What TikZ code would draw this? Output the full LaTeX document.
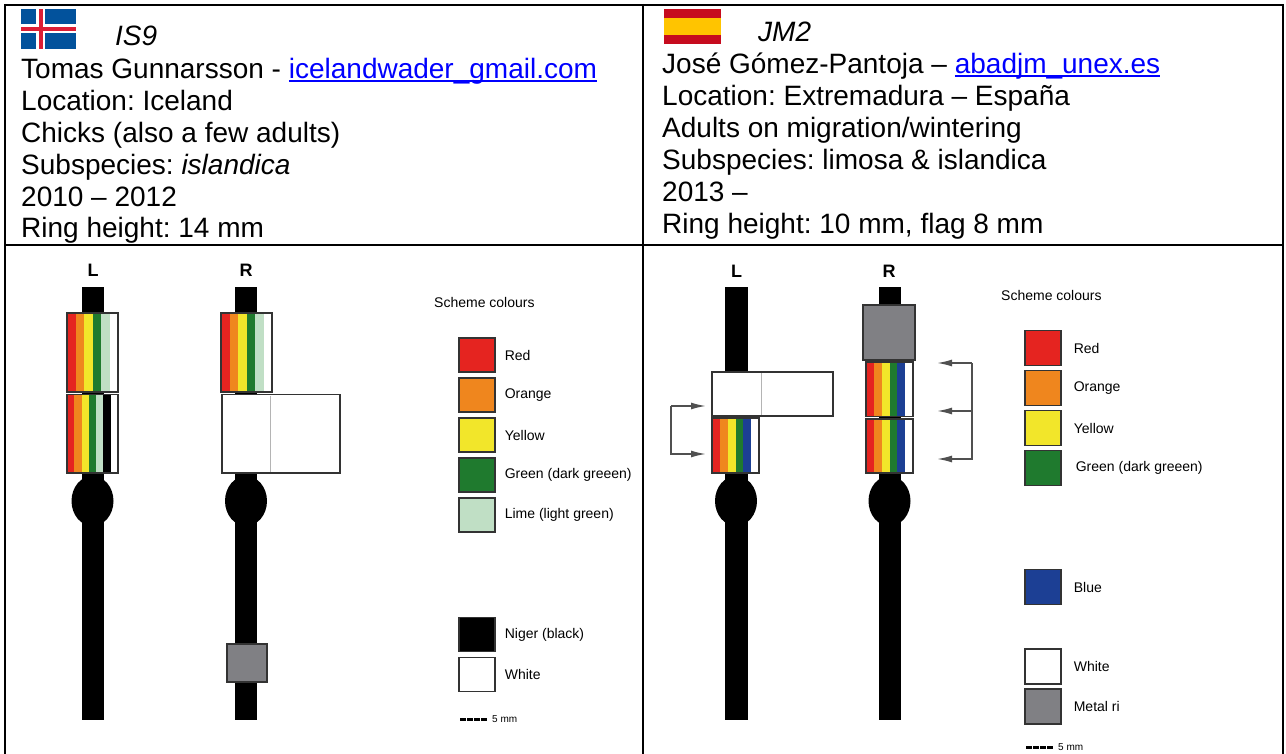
\documentclass[tikz,border=0pt]{standalone}
\usepackage{fontspec}
\setmainfont{Liberation Sans}
\usetikzlibrary{arrows.meta}
\frenchspacing

\definecolor{ringred}{HTML}{E52420}
\definecolor{ringorange}{HTML}{EF861E}
\definecolor{ringyellow}{HTML}{F2E62A}
\definecolor{ringgreen}{HTML}{1F7A2E}
\definecolor{ringlime}{HTML}{C0DFC5}
\definecolor{ringblue}{HTML}{1C3F94}
\definecolor{metal}{HTML}{808084}
\definecolor{ringline}{HTML}{333333}
\definecolor{flagseam}{HTML}{B4B4B4}
\definecolor{arrowgrey}{HTML}{505050}
\definecolor{isblue}{HTML}{02529C}
\definecolor{isred}{HTML}{DC1E35}
\definecolor{esred}{HTML}{C60B1E}
\definecolor{esyellow}{HTML}{FFC400}
\definecolor{linkblue}{HTML}{0000FF}

% underlined blue e-mail address
\newcommand{\weblink}[1]{\begingroup\color{linkblue}\setbox0=\hbox{#1}\rlap{\rule[-3pt]{\wd0}{2pt}}\box0\endgroup}

% striped colour ring: left, top, right, bottom, number of bands, colours
\newcommand{\colourband}[6]{%
  \foreach \c [count=\i from 0] in {#6} {
    \fill[\c] ({#1+\i*(#3-#1)/#5},#2) rectangle ({#1+(\i+1)*(#3-#1)/#5},#4);
  }
  \draw[ringedge] (#1,#2) rectangle (#3,#4);
}

\tikzset{
  hdr/.style={anchor=base west, inner sep=0pt, font=\fontsize{28}{32}\selectfont},
  legendtext/.style={anchor=west, inner sep=0pt, font=\fontsize{14}{16}\selectfont},
  scaletext/.style={anchor=west, inner sep=0pt, font=\fontsize{10}{12}\selectfont},
  sidelabel/.style={inner sep=0pt, font=\fontsize{18}{20}\selectfont\bfseries},
  gridline/.style={line width=2pt, black},
  ringedge/.style={draw=ringline, line width=1.2pt},
  swatch/.style={draw=ringline, line width=1.2pt, minimum width=36pt, minimum height=34pt, inner sep=0pt},
  legbar/.style={fill=black},
  bracket/.style={draw=arrowgrey, line width=1.6pt},
  tip/.style={-{Latex[length=15pt,width=7pt]}},
  scalebar/.style={line width=3pt, dash pattern=on 5.5pt off 1.5pt},
}

\begin{document}
\begin{tikzpicture}[x=1pt,y=-1pt]
\useasboundingbox (0,0) rectangle (1286,754);

% ---------- table frame ----------
\draw[gridline] (5,5) -- (1283,5);
\draw[gridline] (5,245) -- (1283,245);
\draw[gridline] (5,4) -- (5,754);
\draw[gridline] (643,4) -- (643,754);
\draw[gridline] (1283,4) -- (1283,754);

% ---------- Iceland header ----------
\fill[isblue] (21,9) rectangle (76,49);
\fill[white] (36.4,9) rectangle (45.2,49);
\fill[white] (21,24.5) rectangle (76,33.4);
\fill[isred] (38.6,9) rectangle (43,49);
\fill[isred] (21,26.8) rectangle (76,31.2);

\node[hdr] (is9) at (115,46) {\itshape IS9};
\node[hdr] (isname) at (21,79) {Tomas Gunnarsson - \weblink{icelandwader\_gmail.com}};
\node[hdr] (isloc) at (21,111) {Location: Iceland};
\node[hdr] (isage) at (21,143) {Chicks (also a few adults)};
\node[hdr] (isssp) at (21,175) {Subspecies: \textit{islandica}};
\node[hdr] (isyear) at (21,207) {2010 – 2012};
\node[hdr] (isring) at (21,238) {Ring height: 14 mm};

% ---------- Spain header ----------
\fill[esred] (664,9) rectangle (721,44);
\fill[esyellow] (664,17.7) rectangle (721,35.5);

\node[hdr] (jm2) at (758,42) {\itshape JM2};
\node[hdr] (jmname) at (662,74) {José Gómez-Pantoja – \weblink{abadjm\_unex.es}};
\node[hdr] (jmloc) at (662,106) {Location: Extremadura – España};
\node[hdr] (jmage) at (662,138) {Adults on migration/wintering};
\node[hdr] (jmssp) at (662,170) {Subspecies: limosa \& islandica};
\node[hdr] (jmyear) at (662,202) {2013 –};
\node[hdr] (jmring) at (662,234) {Ring height: 10 mm, flag 8 mm};

% ---------- IS9 scheme ----------
\node[sidelabel] (isL) at (93,270.5) {L};
\node[sidelabel] (isR) at (246,270.5) {R};

% left leg
\fill[legbar] (81.5,287) rectangle (103.5,720);
\fill (92.5,501) ellipse [x radius=21pt, y radius=25pt];
\colourband{67}{313}{118}{392}{6}{ringred,ringorange,ringyellow,ringgreen,ringlime,white}
\colourband{67}{394.5}{118}{473}{7}{ringred,ringorange,ringyellow,ringgreen,ringlime,black,white}

% right leg
\fill[legbar] (235,287) rectangle (257,720);
\fill (246,501) ellipse [x radius=21pt, y radius=25pt];
\colourband{221}{313}{272}{392}{6}{ringred,ringorange,ringyellow,ringgreen,ringlime,white}
\draw[ringedge, fill=white] (222,394.5) rectangle (340,473);
\draw[flagseam, line width=1pt] (270,395.5) -- (270,472);
\draw[ringedge, fill=metal] (227,644) rectangle (267,682);

% legend
\node[legendtext] (isscheme) at (434,302) {Scheme colours};
\node[swatch, fill=ringred] (isred1) at (477,355) {};
\node[swatch, fill=ringorange] (isorange) at (477,395) {};
\node[swatch, fill=ringyellow] (isyellow) at (477,435) {};
\node[swatch, fill=ringgreen] (isgreen) at (477,475) {};
\node[swatch, fill=ringlime] (islime) at (477,515) {};
\node[swatch, fill=black] (isblack) at (477,634.5) {};
\node[swatch, fill=white] (iswhite) at (477,674.5) {};
\node[legendtext] at ([xshift=9pt]isred1.east) {Red};
\node[legendtext] at ([xshift=9pt]isorange.east) {Orange};
\node[legendtext] at ([xshift=9pt]isyellow.east) {Yellow};
\node[legendtext] at ([xshift=9pt]isgreen.east) {Green (dark greeen)};
\node[legendtext] at ([xshift=9pt]islime.east) {Lime (light green)};
\node[legendtext] at ([xshift=9pt]isblack.east) {Niger (black)};
\node[legendtext] at ([xshift=9pt]iswhite.east) {White};

\coordinate (isbarA) at (460,719);
\coordinate (isbarB) at (487,719);
\draw[scalebar] (isbarA) -- (isbarB);
\node[scaletext] (isscale) at (492,719) {5 mm};

% ---------- JM2 scheme ----------
\node[sidelabel] (jmL) at (736.5,271) {L};
\node[sidelabel] (jmR) at (889,271) {R};

% left leg with flag
\fill[legbar] (724.5,287) rectangle (747.5,720);
\fill (736,501) ellipse [x radius=21pt, y radius=25pt];
\draw[ringedge, fill=white] (712,372) rectangle (833,416);
\draw[flagseam, line width=1pt] (761,373) -- (761,415);
\colourband{712}{418}{759}{473}{6}{ringred,ringorange,ringyellow,ringgreen,ringblue,white}

\coordinate (jmflagpos) at (706,406);
\coordinate (jmringpos) at (706,454);
\draw[bracket, tip] (671,406) -- (jmflagpos);
\draw[bracket, tip] (671,406) -- (671,454) -- (jmringpos);

% right leg with metal ring and two colour rings
\fill[legbar] (878.5,287) rectangle (900.5,720);
\fill (889.5,501) ellipse [x radius=21pt, y radius=25pt];
\draw[ringedge, fill=metal] (863,305) rectangle (915,360);
\colourband{866}{362}{913}{416.5}{6}{ringred,ringorange,ringyellow,ringgreen,ringblue,white}
\colourband{866}{419}{913}{473}{6}{ringred,ringorange,ringyellow,ringgreen,ringblue,white}

\coordinate (jmposA) at (937,363);
\coordinate (jmposB) at (937,411);
\coordinate (jmposC) at (937,459);
\draw[bracket, tip] (972,363) -- (jmposA);
\draw[bracket, tip] (972,411) -- (jmposB);
\draw[bracket, tip] (972,363) -- (972,459) -- (jmposC);

% legend
\node[legendtext] (jmscheme) at (1001,295) {Scheme colours};
\node[swatch, minimum height=35pt, fill=ringred] (jmred1) at (1043,348) {};
\node[swatch, minimum height=35pt, fill=ringorange] (jmorange) at (1043,388) {};
\node[swatch, minimum height=35pt, fill=ringyellow] (jmyellow) at (1043,428) {};
\node[swatch, minimum height=35pt, fill=ringgreen] (jmgreen) at (1043,468) {};
\node[swatch, minimum height=35pt, fill=ringblue] (jmblue) at (1043,587) {};
\node[swatch, minimum height=35pt, fill=white] (jmwhite) at (1043,666.5) {};
\node[swatch, minimum height=35pt, fill=metal] (jmmetal) at (1043,706.5) {};
\node[legendtext] at ([xshift=12pt]jmred1.east) {Red};
\node[legendtext] at ([xshift=12pt]jmorange.east) {Orange};
\node[legendtext] at ([xshift=12pt]jmyellow.east) {Yellow};
\node[legendtext] at ([xshift=14pt]jmgreen.east) {Green (dark greeen)};
\node[legendtext] at ([xshift=12pt]jmblue.east) {Blue};
\node[legendtext] at ([xshift=12pt]jmwhite.east) {White};
\node[legendtext] at ([xshift=12pt]jmmetal.east) {Metal ri};

\coordinate (jmbarA) at (1026,747);
\coordinate (jmbarB) at (1053,747);
\draw[scalebar] (jmbarA) -- (jmbarB);
\node[scaletext] (jmscale) at (1058,747) {5 mm};
\end{tikzpicture}
\end{document}
